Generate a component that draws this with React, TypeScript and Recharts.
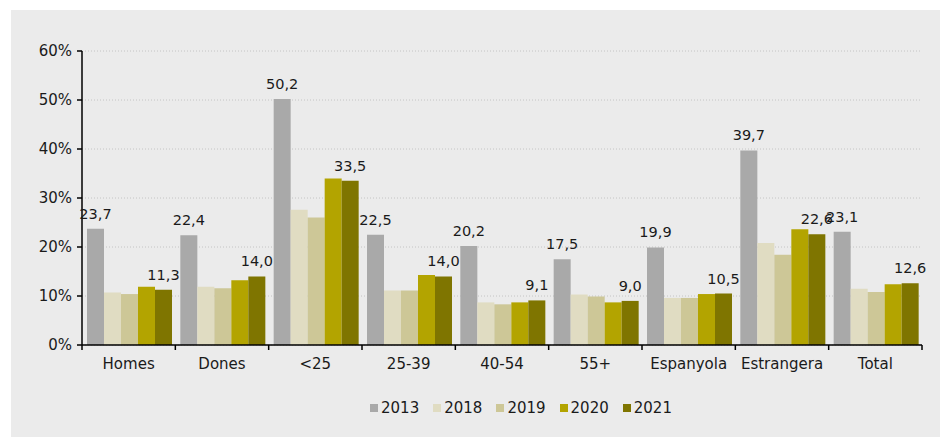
import { Bar, BarChart, CartesianGrid, LabelList, Legend, XAxis, YAxis } from "recharts";

const categories = ["Homes", "Dones", "<25", "25-39", "40-54", "55+", "Espanyola", "Estrangera", "Total"];
const v2013 = [23.7, 22.4, 50.2, 22.5, 20.2, 17.5, 19.9, 39.7, 23.1];
const v2018 = [10.7, 11.9, 27.6, 11.1, 8.7, 10.3, 9.6, 20.8, 11.5];
const v2019 = [10.4, 11.6, 26.0, 11.1, 8.3, 9.9, 9.6, 18.4, 10.8];
const v2020 = [11.9, 13.2, 34.0, 14.3, 8.7, 8.7, 10.4, 23.6, 12.4];
const v2021 = [11.3, 14.0, 33.5, 14.0, 9.1, 9.0, 10.5, 22.6, 12.6];
const yTicks = [0, 10, 20, 30, 40, 50, 60];

const series = [
	{ key: "2013", values: v2013, color: "#A9A9A9", labels: true },
	{ key: "2018", values: v2018, color: "#E0DCC2", labels: false },
	{ key: "2019", values: v2019, color: "#CDC797", labels: false },
	{ key: "2020", values: v2020, color: "#B3A400", labels: false },
	{ key: "2021", values: v2021, color: "#7F7500", labels: true },
];

const data = categories.map((name, i) => {
	const row: Record<string, string | number> = { name };
	for (const s of series) row[s.key] = s.values[i];
	return row;
});

const FONT = "'DejaVu Sans', sans-serif";
const TEXT = "#1a1a1a";
const fmt = (v: number) => v.toFixed(1).replace(".", ",");

// category label plus tick marks on the band edges (pointing down from the axis)
function CategoryTick(props: any) {
	const { x, y, payload, index } = props;
	const half = payload.offset ?? 0;
	return (
		<g>
			{index === 0 && <line x1={x - half} x2={x - half} y1={y} y2={y + 5} stroke="#000" strokeWidth={1.5} />}
			<line x1={x + half} x2={x + half} y1={y} y2={y + 5} stroke="#000" strokeWidth={1.5} />
			<text x={x} y={y + 24} textAnchor="middle" fontSize={15} fontFamily={FONT} fill={TEXT}>
				{payload.value}
			</text>
		</g>
	);
}

function LegendContent() {
	return (
		<div style={{ display: "flex", gap: 14, fontFamily: FONT, fontSize: 15, color: TEXT, lineHeight: "20px" }}>
			{series.map((s) => (
				<div key={s.key} style={{ display: "flex", alignItems: "center", gap: 3 }}>
					<span style={{ width: 8, height: 8, background: s.color, display: "inline-block" }} />
					<span>{s.key}</span>
				</div>
			))}
		</div>
	);
}

export default function App() {
	return (
		<div style={{ position: "absolute", left: 11, top: 10, width: 929, height: 427, background: "#EBEBEB" }}>
			<BarChart
				width={929}
				height={427}
				data={data}
				margin={{ top: 41, right: 18, bottom: 42, left: 0 }}
				barCategoryGap={5}
				barGap={0}
			>
				<CartesianGrid vertical={false} stroke="#c4c4c4" strokeDasharray="1 2" />
				<XAxis
					dataKey="name"
					stroke="#000"
					strokeWidth={1.5}
					tickLine={false}
					tickSize={0}
					tickMargin={0}
					tick={<CategoryTick />}
					height={30}
					interval={0}
				/>
				<YAxis
					domain={[0, 60]}
					ticks={yTicks}
					tickFormatter={(v: number) => `${v}%`}
					width={71}
					stroke="#000"
					strokeWidth={1.5}
					tickSize={5}
					tickMargin={5}
					tick={{ fontSize: 15, fill: TEXT, fontFamily: FONT }}
				/>
				<Legend content={<LegendContent />} wrapperStyle={{ top: 388, left: 359, width: "auto" }} />
				{series.map((s) => (
					<Bar key={s.key} dataKey={s.key} fill={s.color} isAnimationActive={false}>
						{s.labels && (
							<LabelList
								dataKey={s.key}
								position="top"
								offset={10}
								formatter={(v: number) => fmt(v)}
								fontSize={14.5}
								fontFamily={FONT}
								fill={TEXT}
							/>
						)}
					</Bar>
				))}
			</BarChart>
		</div>
	);
}
